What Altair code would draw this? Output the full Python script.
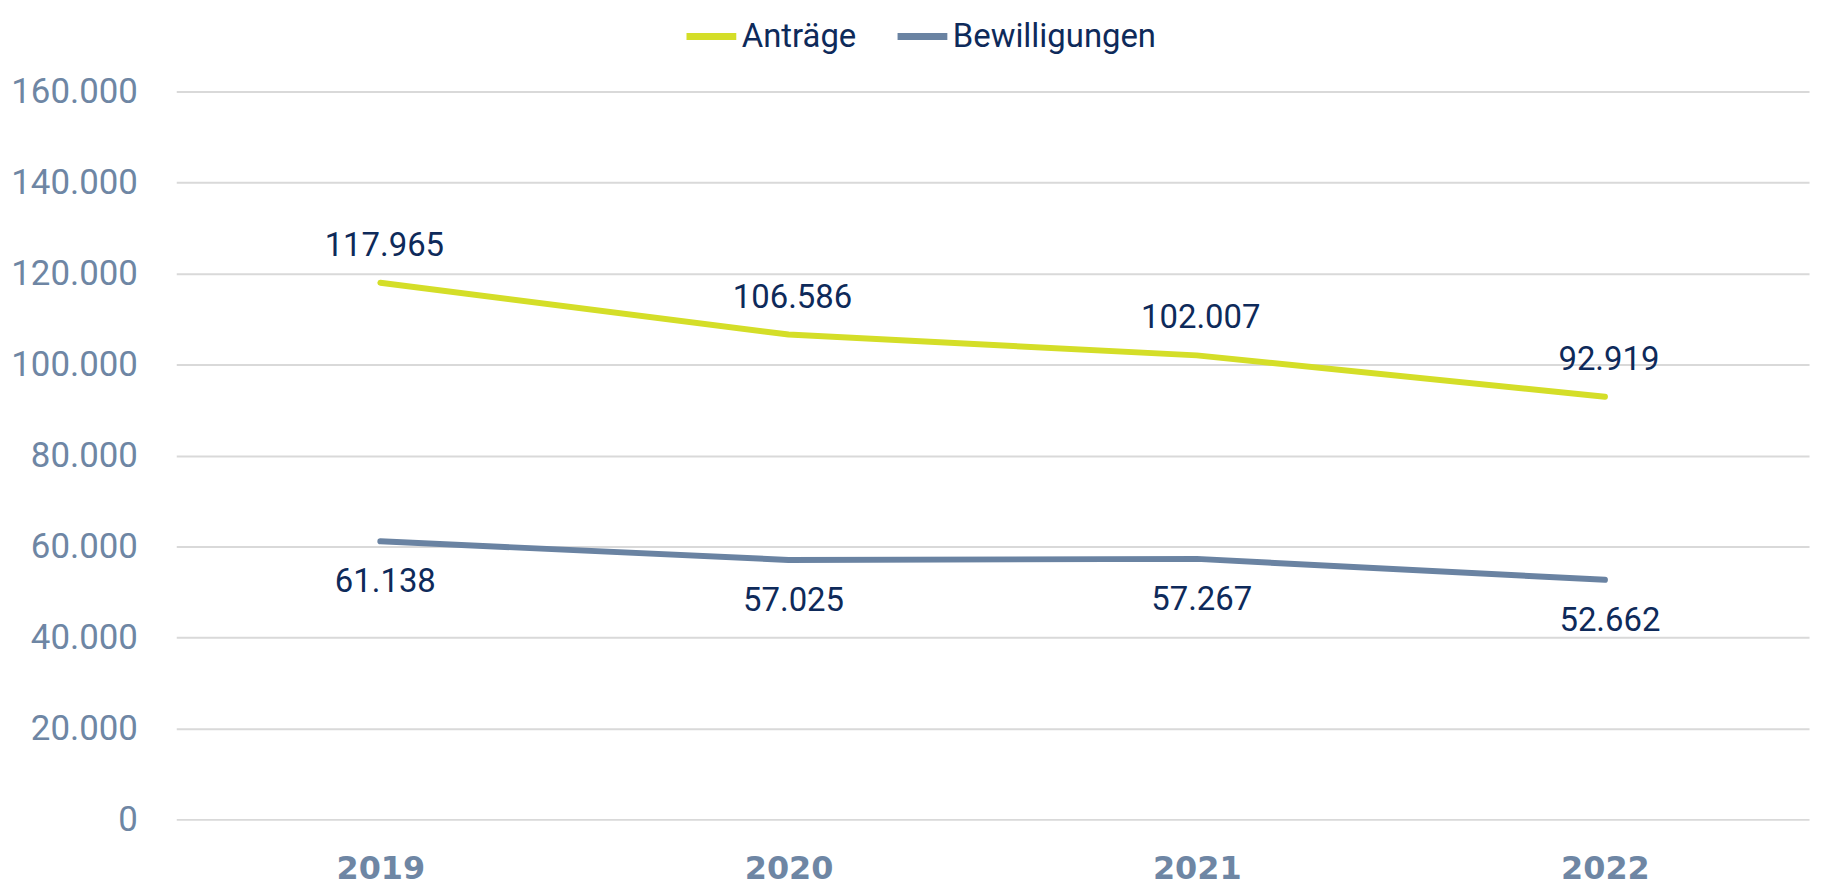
import altair as alt
import pandas as pd

years = ["2019", "2020", "2021", "2022"]
antraege = [117965, 106586, 102007, 92919]
bewilligungen = [61138, 57025, 57267, 52662]
series_names = ["Anträge", "Bewilligungen"]
series_colors = ["#D4DE28", "#6A83A2"]

NAVY = "#0E2A5A"
SLATE = "#6E86A4"
FONT = "Roboto"

def de(v):
    return f"{v:,}".replace(",", ".")

rows = []
for y, a, b in zip(years, antraege, bewilligungen):
    rows.append({"Jahr": y, "Serie": series_names[0], "Wert": a, "Label": de(a)})
    rows.append({"Jahr": y, "Serie": series_names[1], "Wert": b, "Label": de(b)})
df = pd.DataFrame(rows)

x_enc = alt.X(
    "Jahr:N",
    sort=years,
    scale=alt.Scale(paddingInner=1, paddingOuter=0.5),
    axis=alt.Axis(
        title=None, labelAngle=0, ticks=False, domain=False, grid=False,
        labelFont="DejaVu Sans", labelFontSize=32, labelFontWeight="bold", labelColor=SLATE,
        labelPadding=34,
    ),
)
y_enc = alt.Y(
    "Wert:Q",
    scale=alt.Scale(domain=[0, 160000], nice=False),
    axis=alt.Axis(
        title=None, values=list(range(0, 160001, 20000)), ticks=False, domain=False,
        grid=True, gridColor="#D9D9D9", gridWidth=2,
        labelFont=FONT, labelFontSize=35, labelColor=SLATE, labelPadding=39,
        labelExpr="replace(format(datum.value, ','), ',', '.')",
        minExtent=169, maxExtent=169,
    ),
)
color_enc = alt.Color(
    "Serie:N",
    scale=alt.Scale(domain=series_names, range=series_colors),
    legend=alt.Legend(
        title=None, orient="none", legendX=509, legendY=-84, direction="horizontal",
        symbolType="stroke", symbolSize=2500, symbolStrokeWidth=7,
        labelFont=FONT, labelFontSize=33, labelColor=NAVY, labelOffset=2,
        labelLimit=400, columnPadding=26, columns=2,
    ),
)

base = alt.Chart(df)
lines = base.mark_line(strokeWidth=6, strokeCap="round", strokeJoin="round").encode(
    x=x_enc, y=y_enc, color=color_enc, detail="Serie:N"
)
lab_a = base.transform_filter(alt.datum.Serie == series_names[0]).mark_text(
    font=FONT, fontSize=33, color=NAVY, dy=-37, dx=4, baseline="middle"
).encode(x=alt.X("Jahr:N", sort=years), y="Wert:Q", text="Label:N")
lab_b = base.transform_filter(alt.datum.Serie == series_names[1]).mark_text(
    font=FONT, fontSize=33, color=NAVY, dy=41, dx=5, baseline="middle"
).encode(x=alt.X("Jahr:N", sort=years), y="Wert:Q", text="Label:N")

chart = (
    alt.layer(lines, lab_a, lab_b)
    .properties(
        width=1640, height=731,
        autosize=alt.AutoSizeParams(type="none"),
        padding={"left": 169, "top": 82, "right": 8, "bottom": 74},
    )
    .configure(background="white", view=alt.ViewConfig(stroke=None))
)

chart.save("out.html", embed_options={"renderer": "svg", "actions": False})
